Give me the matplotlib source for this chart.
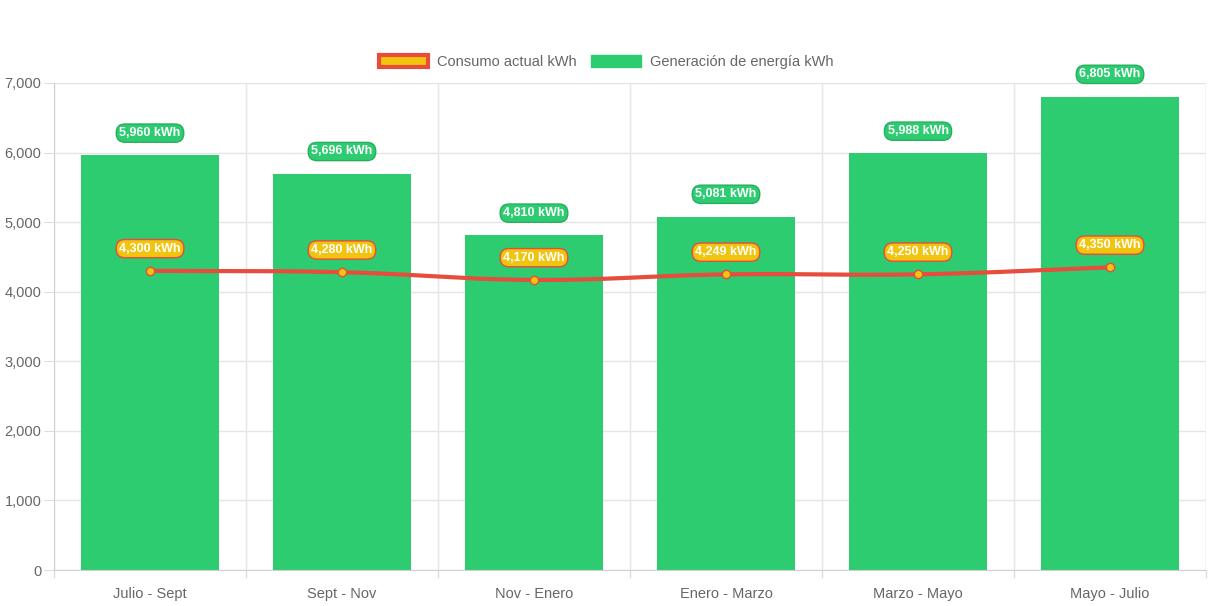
import numpy as np
import matplotlib
matplotlib.use("Agg")
import matplotlib.pyplot as plt
from matplotlib.patches import Patch
from matplotlib.ticker import FuncFormatter, MultipleLocator
import matplotlib.transforms as mtransforms

categories = ["Julio - Sept", "Sept - Nov", "Nov - Enero", "Enero - Marzo", "Marzo - Mayo", "Mayo - Julio"]
generacion = [5960, 5696, 4810, 5081, 5988, 6805]
consumo = [4300, 4280, 4170, 4249, 4250, 4350]

GREEN = "#2ecc71"
YELLOW = "#f1c40f"
RED = "#e74c3c"
GRAY = "#666666"

plt.rcParams["font.family"] = ["Liberation Sans", "DejaVu Sans"]

fig = plt.figure(figsize=(12.13, 6.06), dpi=100)
ax = fig.add_axes([54/1213, 36/606, 1152/1213, 487/606])

x = np.arange(len(categories))
ax.bar(x, generacion, width=0.72, color=GREEN, zorder=2)

# Chart.js-like spline (tension 0.4)
def spline_points(xs, ys, tension=0.4, n=30):
    xs = np.asarray(xs, float); ys = np.asarray(ys, float)
    pts = ax.transData.transform(np.column_stack([xs, ys]))
    out = []
    N = len(pts)
    cps = []
    for i in range(N):
        prev = pts[max(i-1, 0)]; cur = pts[i]; nxt = pts[min(i+1, N-1)]
        d01 = np.hypot(*(cur - prev)); d12 = np.hypot(*(nxt - cur))
        s01 = d01 / (d01 + d12) if d01 + d12 else 0
        s12 = d12 / (d01 + d12) if d01 + d12 else 0
        fa = tension * s01; fb = tension * s12
        cp_prev = cur - fa * (nxt - prev)
        cp_next = cur + fb * (nxt - prev)
        cps.append((cp_prev, cp_next))
    for i in range(N-1):
        p0 = pts[i]; p3 = pts[i+1]
        p1 = cps[i][1]; p2 = cps[i+1][0]
        t = np.linspace(0, 1, n)[:, None]
        seg = (1-t)**3*p0 + 3*(1-t)**2*t*p1 + 3*(1-t)*t**2*p2 + t**3*p3
        out.append(seg if i == 0 else seg[1:])
    out = np.vstack(out)
    return ax.transData.inverted().transform(out)

ax.set_xlim(-0.5, len(categories) - 0.5)
ax.set_ylim(0, 7000)

curve = spline_points(x, consumo)
ax.plot(curve[:, 0], curve[:, 1], color=RED, lw=3, zorder=3, solid_capstyle="round")
ax.plot(x, consumo, "o", ms=6, mfc=YELLOW, mec=RED, mew=1.0, zorder=4)

offset = mtransforms.offset_copy(ax.transData, fig=fig, x=0, y=16, units="points")
for xi, v in zip(x, generacion):
    ax.text(xi, v, f"{v:,} kWh", transform=offset, ha="center", va="center",
            color="white", fontsize=9, fontweight="bold", zorder=6,
            bbox=dict(boxstyle="round,pad=0.25,rounding_size=0.7", fc=GREEN, ec="#27ae60", lw=1))
for xi, v in zip(x, consumo):
    ax.text(xi, v, f"{v:,} kWh", transform=offset, ha="center", va="center",
            color="white", fontsize=9, fontweight="bold", zorder=6,
            bbox=dict(boxstyle="round,pad=0.25,rounding_size=0.7", fc=YELLOW, ec=RED, lw=1))

ax.yaxis.set_major_locator(MultipleLocator(1000))
ax.yaxis.set_major_formatter(FuncFormatter(lambda v, p: f"{int(v):,}"))
ax.set_xticks(x)
ax.set_xticklabels(categories)
ax.set_xticks(np.arange(len(categories) + 1) - 0.5, minor=True)
ax.tick_params(axis="x", which="major", length=0, pad=12, labelsize=10.5, labelcolor=GRAY)
ax.tick_params(axis="x", which="minor", length=6, color="#dddddd", width=1)
ax.tick_params(axis="y", length=7, color="#dddddd", labelsize=10.5, labelcolor=GRAY, pad=2)
ax.grid(axis="y", color="#e5e5e5", lw=1, zorder=0)
ax.grid(axis="x", which="minor", color="#e5e5e5", lw=1, zorder=0)
ax.set_axisbelow(True)
for s in ["top", "right"]:
    ax.spines[s].set_visible(False)
for s in ["left", "bottom"]:
    ax.spines[s].set_color("#d0d0d0")
ax.axvline(len(categories) - 0.5, color="#e5e5e5", lw=1, zorder=0)

handles = [Patch(facecolor=YELLOW, edgecolor=RED, linewidth=3, label="Consumo actual kWh"),
           Patch(facecolor=GREEN, edgecolor=GREEN, label="Generación de energía kWh")]
fig.legend(handles=handles, loc="center", bbox_to_anchor=(606/1213, 1 - 62/606), ncol=2,
           frameon=False, fontsize=10.5, labelcolor=GRAY, handlelength=3.4, handleheight=0.9,
           handletextpad=0.6, columnspacing=1.0)

fig.savefig("out.png", dpi=100)
